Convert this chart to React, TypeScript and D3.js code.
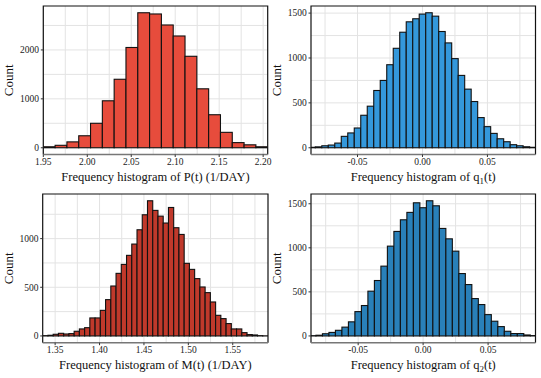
import React from "react";
import { scaleLinear, max } from "d3";

// histogram counts, one value per bin
const pCounts = [20, 50, 120, 245, 500, 960, 1400, 2050, 2760, 2735, 2510, 2285, 1870, 1205, 675, 315, 105, 60, 20];
const pBinStart = 1.95;
const pBinWidth = 0.01343;
const pTicks = [1.95, 2.0, 2.05, 2.1, 2.15, 2.2];

const q1Counts = [5, 10, 22, 30, 52, 127, 165, 220, 362, 463, 638, 750, 925, 1108, 1287, 1403, 1437, 1489, 1504, 1466, 1295, 1168, 993, 806, 653, 515, 336, 235, 160, 100, 67, 34, 22, 11, 5];
const q2Counts = [3, 8, 25, 40, 64, 100, 160, 276, 345, 508, 629, 792, 1019, 1186, 1318, 1402, 1511, 1455, 1534, 1477, 1220, 1102, 962, 708, 583, 424, 356, 242, 167, 106, 53, 27, 27, 11, 4];
const qBinStart = -0.0875;
const qBinWidth = 0.005;
const qTicks = [-0.05, 0.0, 0.05];

const mCounts = [3, 7, 17, 27, 20, 24, 48, 72, 85, 185, 185, 263, 373, 513, 643, 735, 828, 944, 1091, 1245, 1389, 1290, 1231, 1160, 1320, 1112, 1043, 746, 684, 589, 503, 445, 349, 212, 178, 127, 72, 72, 34, 14, 10, 3, 1];
const mBinStart = 1.336;
const mBinWidth = 0.0059;
const mTicks = [1.35, 1.4, 1.45, 1.5, 1.55];

const yTicksBig = [0, 1000, 2000];
const yTicksQ = [0, 500, 1000, 1500];
const yTicksM = [0, 500, 1000];

const serif = { fontFamily: '"Liberation Serif", "Times New Roman", Times, serif' };

function Histogram({ id, counts, binStart, binWidth, xDomain, xTicks, xFmt, yTicks, yStep, color, left, top, right, bottom, title }) {
  const x = scaleLinear().domain(xDomain).range([left, right]);
  const m = max(counts);
  const y = scaleLinear().domain([-0.05 * m, 1.05 * m]).range([bottom, top]);

  // minor gridlines halfway between majors
  const xStep = xTicks[1] - xTicks[0];
  const xGrid = [];
  for (let v = xTicks[0] - xStep; v <= xDomain[1] + 1e-9; v += xStep / 2) {
    if (v >= xDomain[0] - 1e-9) xGrid.push(v);
  }
  const yGrid = [];
  for (let v = 0; v <= 1.05 * m; v += yStep) yGrid.push(v);

  return (
    <g style={serif}>
      <defs>
        <clipPath id={id}>
          <rect x={left} y={top} width={right - left} height={bottom - top} />
        </clipPath>
      </defs>
      {xGrid.map((v, i) => (
        <line key={"gx" + i} x1={x(v)} x2={x(v)} y1={top} y2={bottom} stroke="#e3e3e3" strokeWidth={1} />
      ))}
      {yGrid.map((v, i) => (
        <line key={"gy" + i} x1={left} x2={right} y1={y(v)} y2={y(v)} stroke="#e3e3e3" strokeWidth={1} />
      ))}
      <g clipPath={`url(#${id})`}>
        {counts.map((c, i) => (
          <rect
            key={i}
            x={x(binStart + i * binWidth)}
            y={y(c)}
            width={x(binStart + (i + 1) * binWidth) - x(binStart + i * binWidth)}
            height={y(0) - y(c)}
            fill={color}
            stroke="#111"
            strokeWidth={1.1}
          />
        ))}
      </g>
      <path d={`M${left},${bottom}V${top}H${right}V${bottom}`} fill="none" stroke="#111" strokeWidth={1.2} />
      <line x1={left} x2={right} y1={bottom} y2={bottom} stroke="#777" strokeWidth={1.5} />
      {yTicks.map((v) => (
        <g key={"yt" + v}>
          <line x1={left - 2.5} x2={left} y1={y(v)} y2={y(v)} stroke="#333" />
          <text x={left - 4.3} y={y(v) + 3.3} textAnchor="end" fontSize={9.5} style={serif} fill="#222">
            {v}
          </text>
        </g>
      ))}
      {xTicks.map((v) => (
        <g key={"xt" + v}>
          <line x1={x(v)} x2={x(v)} y1={bottom} y2={bottom + 2.5} stroke="#333" />
          <text x={x(v)} y={bottom + 10} textAnchor="middle" fontSize={9.5} style={serif} fill="#222">
            {xFmt(v)}
          </text>
        </g>
      ))}
      <text
        transform={`translate(${left - 30},${(top + bottom) / 2}) rotate(-90)`}
        textAnchor="middle"
        fontSize={13}
        style={serif}
        fill="#111"
      >
        Count
      </text>
      <text x={(left + right) / 2} y={bottom + 26.5} textAnchor="middle" fontSize={12.5} style={serif} fill="#111">
        {title}
      </text>
    </g>
  );
}

const fmt2 = (v) => v.toFixed(2);

export default function App() {
  return (
    <svg width={541} height={378} style={{ position: "absolute", left: 0, top: 0, background: "#fff" }}>
      <Histogram
        id="c1"
        counts={pCounts}
        binStart={pBinStart}
        binWidth={pBinWidth}
        xDomain={[pBinStart, pBinStart + pCounts.length * pBinWidth]}
        xTicks={pTicks}
        xFmt={fmt2}
        yTicks={yTicksBig}
        yStep={500}
        color="#E74C3C"
        left={43.3}
        top={6}
        right={267.7}
        bottom={154.5}
        title="Frequency histogram of P(t) (1/DAY)"
      />
      <Histogram
        id="c2"
        counts={q1Counts}
        binStart={qBinStart}
        binWidth={qBinWidth}
        xDomain={[-0.0858, 0.087]}
        xTicks={qTicks}
        xFmt={fmt2}
        yTicks={yTicksQ}
        yStep={250}
        color="#3498DB"
        left={311}
        top={6}
        right={535.5}
        bottom={154.5}
        title={
          <>
            Frequency histogram of q<tspan fontSize={9} dy={3}>1</tspan>
            <tspan dy={-3}>(t)</tspan>
          </>
        }
      />
      <Histogram
        id="c3"
        counts={mCounts}
        binStart={mBinStart}
        binWidth={mBinWidth}
        xDomain={[mBinStart, mBinStart + mCounts.length * mBinWidth]}
        xTicks={mTicks}
        xFmt={fmt2}
        yTicks={yTicksM}
        yStep={250}
        color="#C0392B"
        left={42.7}
        top={194}
        right={268}
        bottom={342.7}
        title="Frequency histogram of M(t) (1/DAY)"
      />
      <Histogram
        id="c4"
        counts={q2Counts}
        binStart={qBinStart}
        binWidth={qBinWidth}
        xDomain={[-0.0863, 0.0865]}
        xTicks={qTicks}
        xFmt={fmt2}
        yTicks={yTicksQ}
        yStep={250}
        color="#2980B9"
        left={311}
        top={194}
        right={535.5}
        bottom={342.7}
        title={
          <>
            Frequency histogram of q<tspan fontSize={9} dy={3}>2</tspan>
            <tspan dy={-3}>(t)</tspan>
          </>
        }
      />
    </svg>
  );
}
